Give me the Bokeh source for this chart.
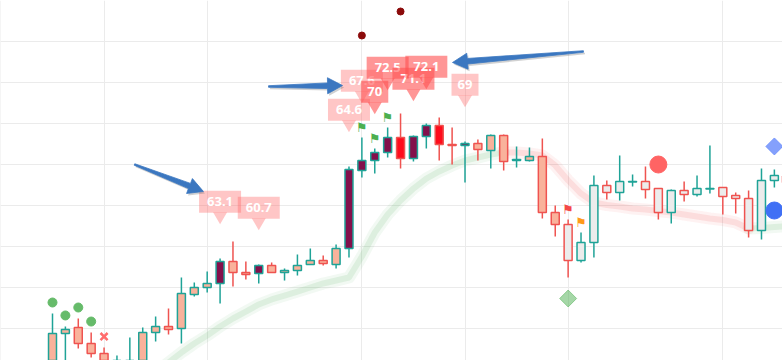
import numpy as np
from bokeh.plotting import figure
from bokeh.models import Range1d, FixedTicker, ColumnDataSource, Grid
from bokeh.core.properties import value
from bokeh.embed import file_html
from bokeh.resources import INLINE

# ---------------- data ----------------
opens  = [44.88, 49.39, 50.12, 48.17, 46.95, 44.15, 43.66, 44.63, 49.51, 50.24,
          50.00, 54.15, 55.00, 55.49, 58.17, 56.83, 56.71, 57.68, 56.83, 57.07,
          57.80, 58.29, 57.80, 59.76, 69.27, 70.49, 71.46, 73.29, 70.73, 73.41,
          74.76, 72.44, 72.32, 72.56, 71.71, 73.54, 70.49, 70.49, 70.98, 64.15,
          62.68, 58.29, 60.49, 67.44, 66.59, 67.87, 67.93, 67.07, 64.15, 66.83,
          66.34, 67.01, 67.20, 66.22, 65.85, 61.95, 68.05, 68.54]
highs  = [51.83, 50.24, 51.22, 49.51, 47.68, 46.71, 48.90, 50.12, 51.46, 52.44,
          56.22, 55.61, 56.95, 58.54, 60.61, 58.17, 57.80, 58.05, 57.32, 59.02,
          59.76, 58.90, 60.24, 69.76, 73.29, 71.95, 74.51, 76.22, 73.54, 75.00,
          75.73, 74.51, 72.80, 73.05, 73.66, 73.66, 72.20, 72.07, 73.17, 65.00,
          63.29, 61.71, 68.66, 68.05, 71.10, 68.78, 69.76, 67.07, 66.95, 67.93,
          68.66, 72.32, 67.20, 66.59, 66.83, 69.51, 69.39, 69.02]
lows   = [43.66, 44.27, 47.56, 46.46, 44.63, 43.41, 42.93, 43.66, 48.41, 49.27,
          48.17, 53.90, 54.39, 53.05, 55.12, 55.98, 55.49, 56.83, 55.85, 56.46,
          57.80, 57.68, 57.32, 58.66, 68.41, 68.90, 70.85, 69.51, 70.37, 71.95,
          70.49, 70.00, 67.80, 70.49, 69.51, 69.27, 69.63, 70.37, 63.41, 61.22,
          56.22, 58.05, 58.66, 65.73, 65.61, 67.32, 65.85, 63.29, 62.80, 65.49,
          66.10, 66.46, 63.90, 64.02, 61.10, 60.85, 67.20, 67.32]
closes = [49.39, 49.88, 48.17, 46.95, 45.37, 45.85, 45.37, 49.51, 50.24, 49.88,
          54.27, 55.00, 55.49, 58.17, 56.83, 56.59, 57.68, 56.83, 57.07, 57.68,
          58.29, 57.93, 59.76, 69.39, 70.49, 71.46, 73.29, 70.73, 73.41, 74.76,
          72.44, 72.32, 72.56, 71.83, 73.54, 70.37, 70.61, 70.98, 64.15, 62.68,
          58.29, 60.49, 67.44, 66.59, 67.93, 67.93, 66.95, 64.15, 66.83, 66.34,
          67.07, 67.07, 66.10, 65.85, 61.95, 68.05, 68.66, 67.80]
# body fill style: s = salmon, p = purple, r = red, g = grey
fill_style = list("ssssssssssssspssp" "ssssss" "pppprpprrp" "sssssss" "gggggggggggggggggg")

ma_start = 8
ma_values = [44.63, 45.85, 47.07, 48.17, 49.15, 50.24, 51.22, 52.07, 52.93, 53.54,
             54.02, 54.51, 55.00, 55.49, 55.85, 56.22, 58.78, 61.71, 63.90, 65.61,
             67.07, 68.29, 69.15, 69.88, 70.49, 70.85, 71.22, 71.46, 71.46, 71.34,
             71.10, 69.88, 68.05, 66.46, 65.37, 65.06, 64.88, 64.63, 64.51, 64.33,
             64.15, 63.90, 63.66, 63.41, 63.23, 62.93, 62.20, 62.26, 62.38, 62.50]

pin_x = [13, 16, 23, 24, 25, 26, 28, 29, 32]
pin_y = [63.69, 62.96, 74.91, 78.45, 77.10, 80.03, 78.69, 80.15, 77.96]
pin_text = ["63.1", "60.7", "64.6", "67.6", "70", "72.5", "71.1", "72.1", "69"]

dot_x = [0, 1, 2, 3]
dot_y = [53.17, 51.59, 52.56, 50.85]
cross_x = [4]
cross_y = [49.02]
dark_x = [24, 27]
dark_y = [85.73, 88.66]
gflag_x = [24, 25, 26]
gflag_y = [74.57, 73.17, 75.73]
rflag_x = [40]
rflag_y = [64.57]
oflag_x = [41]
oflag_y = [62.93]
red_circle_x = [47]
red_circle_y = [70.0]
blue_diamond_x = [56]
blue_diamond_y = [72.20]
blue_circle_x = [56]
blue_circle_y = [64.39]
green_diamond_x = [40]
green_diamond_y = [53.66]

arrow_x0 = [6.36, 16.76, 41.19]
arrow_y0 = [70.00, 79.51, 83.78]
arrow_x1 = [11.71, 22.50, 31.03]
arrow_y1 = [66.71, 79.63, 82.44]

x_grid = [-4, 4, 12, 24, 32, 40, 52]
y_grid = [50, 55, 60, 65, 70, 75, 80, 85]

# ---------------- styles ----------------
W, H = 782, 360
X0, X1 = -4.034, 56.63
Y1 = 90.0
Y0 = Y1 - H / 8.2
PX_X = W / (X1 - X0)   # pixels per index step
PX_Y = H / (Y1 - Y0)   # pixels per value unit
TEAL = "#1fa397"
RED = "#ef5350"
FILLS = {"s": "#f9b29b", "p": "#83104b", "r": "#ff0c1c", "g": "#ececec"}
BLUE = "#3b77c0"

p = figure(width=W, height=H, x_range=Range1d(X0, X1), y_range=Range1d(Y0, Y1),
           x_axis_type=None, y_axis_type=None, output_backend="svg",
           toolbar_location=None, min_border=0)
p.outline_line_color = None
p.background_fill_color = "white"
p.add_layout(Grid(dimension=0, ticker=FixedTicker(ticks=x_grid),
                  grid_line_color="#ebebeb", grid_line_width=1))
p.add_layout(Grid(dimension=1, ticker=FixedTicker(ticks=y_grid),
                  grid_line_color="#ebebeb", grid_line_width=1))

# moving-average band, coloured by direction
ma_x = list(range(ma_start, ma_start + len(ma_values)))
runs_x, runs_y, runs_c = [], [], []
for i in range(len(ma_values) - 1):
    col = "#4caf50" if ma_values[i + 1] > ma_values[i] else "#f04848"
    if runs_c and runs_c[-1] == col:
        runs_x[-1].append(ma_x[i + 1]); runs_y[-1].append(ma_values[i + 1])
    else:
        runs_x.append([ma_x[i], ma_x[i + 1]]); runs_y.append([ma_values[i], ma_values[i + 1]])
        runs_c.append(col)
p.multi_line(runs_x, runs_y, line_color=runs_c, line_width=12, line_alpha=0.07,
             line_join="round", line_cap="round")
p.multi_line(runs_x, runs_y, line_color=runs_c, line_width=6, line_alpha=0.12,
             line_join="round", line_cap="round")

# candles
n = len(opens)
up = [c >= o for o, c in zip(opens, closes)]
csrc = ColumnDataSource(dict(
    x=list(range(n)), h=highs, l=lows,
    top=[max(o, c) for o, c in zip(opens, closes)],
    bottom=[min(o, c) for o, c in zip(opens, closes)],
    edge=[TEAL if u else RED for u in up],
    fill=[FILLS[f] for f in fill_style],
))
p.segment("x", "h", "x", "l", line_color="edge", line_width=1.5, source=csrc)
p.vbar(x="x", width=0.62, top="top", bottom="bottom", fill_color="fill",
       line_color="edge", line_width=1.5, source=csrc)

# point markers
p.scatter(dot_x, dot_y, size=9, color="#66bb6a")
p.scatter(cross_x, cross_y, marker="x", size=10, line_color="#ff6b6b", line_width=2.5)
p.scatter(dark_x, dark_y, size=7, color="#8b0a0a")
p.scatter(red_circle_x, red_circle_y, size=17, color="#ff6464")
p.scatter(blue_diamond_x, blue_diamond_y, marker="square", angle=np.pi / 4, size=12,
          color="#6f8ffc", alpha=0.85)
p.scatter(blue_circle_x, blue_circle_y, size=17, color="#4070f5")
p.scatter(green_diamond_x, green_diamond_y, marker="square", angle=np.pi / 4, size=12,
          color="#4caf50", alpha=0.5)
flag_font = value("DejaVu Sans")
for fx, fy, fc in ((gflag_x, gflag_y, "#4caf50"), (rflag_x, rflag_y, "#f44848"),
                   (oflag_x, oflag_y, "#ff9a1a")):
    p.text(fx, fy, text=["\u2691"] * len(fx), text_color=fc, text_font=flag_font,
           text_font_size="13px", text_align="center", text_baseline="middle")

# pins: pointer + box + label, drawn one after another so later pins cover earlier ones
BOX_UP = 14.5 / PX_Y
for x, y, t in zip(pin_x, pin_y, pin_text):
    strong = float(t) >= 70
    col = "#ff5050" if strong else "#ff6a6a"
    a = 0.6 if strong else 0.38
    p.scatter([x], [y], marker="inverted_triangle", size=14, fill_color=col,
              fill_alpha=a, line_color=None)
    p.rect([x], [y + BOX_UP], width=12 + 7.5 * len(t), height=22,
           width_units="screen", height_units="screen",
           fill_color=col, fill_alpha=a, line_color=None)
    p.text([x], [y + BOX_UP], text=[t], text_color="white",
           text_font=value("Noto Sans"), text_font_size="13px", text_font_style="bold",
           text_align="center", text_baseline="middle")

# tapered arrows with a soft shadow (shape built in screen pixels, mapped back to data)
def arrow_shape(xa, ya, xb, yb, ox=0.0, oy=0.0):
    T = np.array([xa * PX_X + ox, ya * PX_Y + oy])
    P = np.array([xb * PX_X + ox, yb * PX_Y + oy])
    u = (P - T) / np.linalg.norm(P - T)
    nrm = np.array([-u[1], u[0]])
    B = P - 15 * u
    pts = [T + 0.8 * nrm, B + 2.8 * nrm, B + 8 * nrm, P, B - 8 * nrm, B - 2.8 * nrm,
           T - 0.8 * nrm]
    return [q[0] / PX_X for q in pts], [q[1] / PX_Y for q in pts]

sh = [arrow_shape(*a, ox=1.5, oy=-2.0) for a in zip(arrow_x0, arrow_y0, arrow_x1, arrow_y1)]
p.patches([s[0] for s in sh], [s[1] for s in sh], fill_color="#666666", fill_alpha=0.3,
          line_color=None)
ar = [arrow_shape(*a) for a in zip(arrow_x0, arrow_y0, arrow_x1, arrow_y1)]
p.patches([s[0] for s in ar], [s[1] for s in ar], fill_color=BLUE, line_color=BLUE,
          line_width=0.8)

open("out.html", "w").write(file_html(p, INLINE))
